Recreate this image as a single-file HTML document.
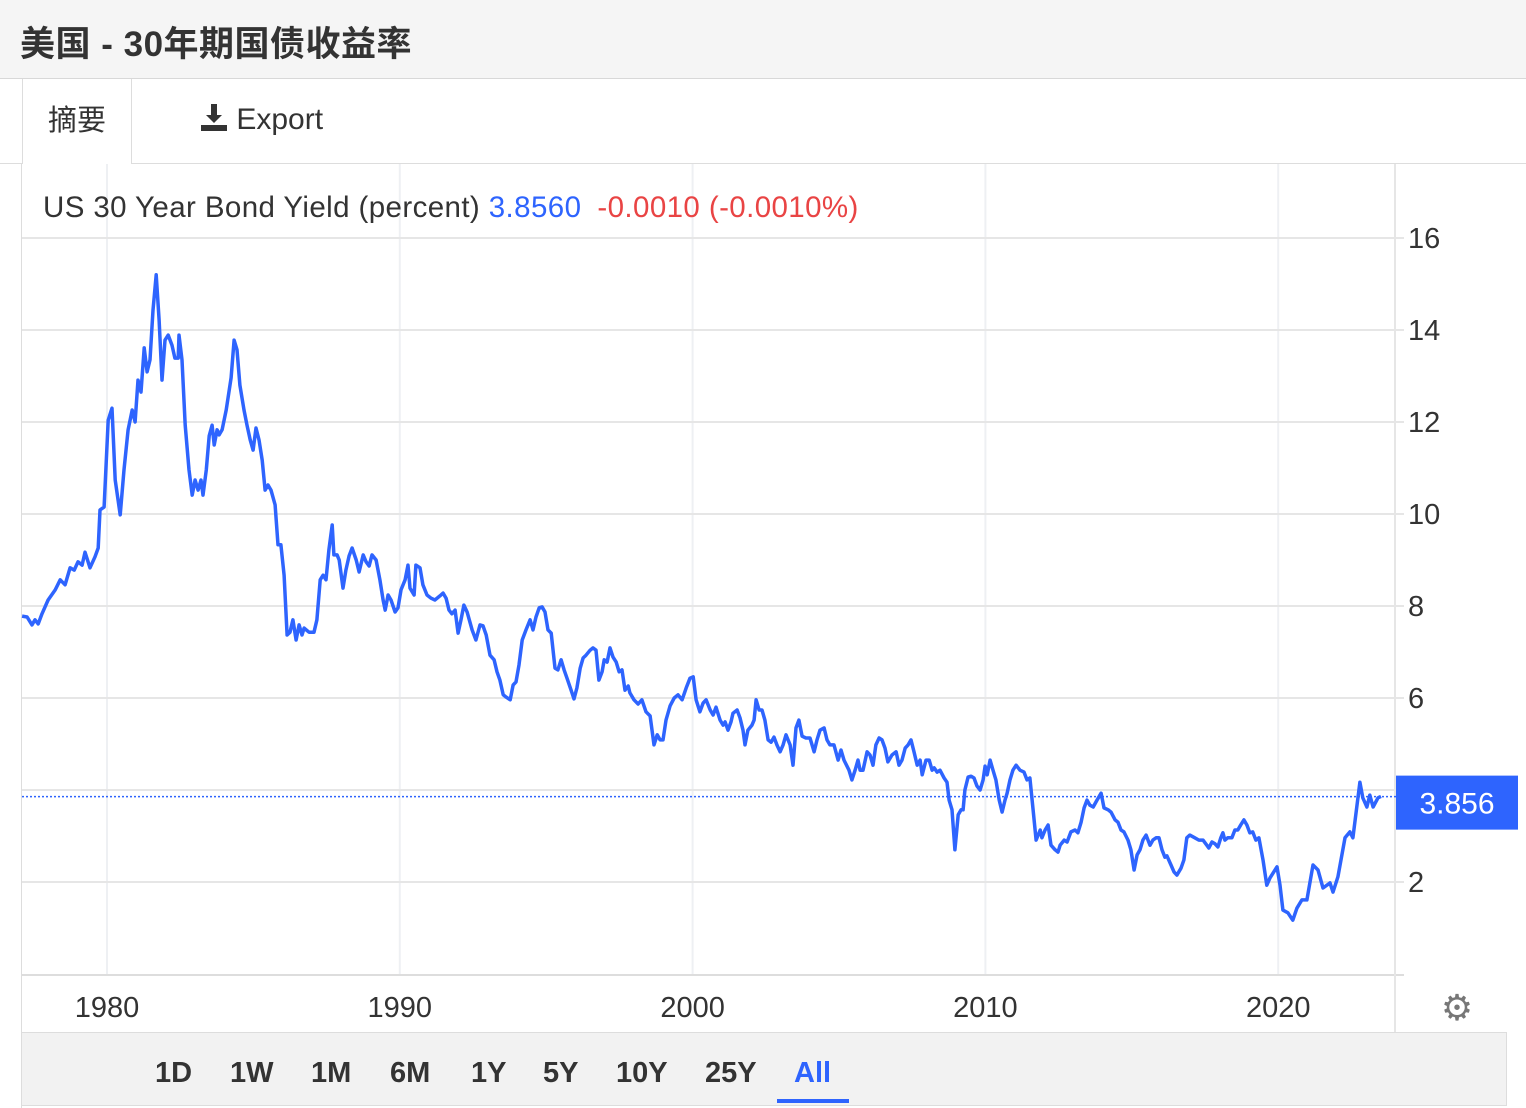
<!DOCTYPE html>
<html><head><meta charset="utf-8"><style>
body{margin:0;width:1526px;height:1108px;overflow:hidden;background:#fff;font-family:"Liberation Sans","Noto Sans CJK SC",sans-serif;}
#hdr{position:absolute;left:0;top:0;width:1526px;height:78px;background:#f5f5f5;border-bottom:1px solid #d8d8d8;}
#title{position:absolute;left:20px;top:16px;font-size:35px;font-weight:bold;color:#333;letter-spacing:0.5px}
#tabs{position:absolute;left:0;top:79px;width:1526px;height:84px;background:#fff;border-bottom:1px solid #ddd;}
#tab1{position:absolute;left:22px;top:0;width:108px;height:85px;background:#fff;border-left:1px solid #ddd;border-right:1px solid #ddd;font-size:29px;color:#333;text-align:center;line-height:84px;}
#export{position:absolute;left:200px;top:23px;font-size:30px;color:#333;}
#panel{position:absolute;left:21px;top:164px;width:1505px;height:944px;border-left:1px solid #ddd;background:#fff}
#bar{position:absolute;left:21px;top:1032px;width:1484px;height:72px;background:#f2f2f2;border:1px solid #ddd;}
.rb{position:absolute;top:24px;font-size:29px;font-weight:bold;color:#333;}
</style></head><body>
<div id="hdr"><div id="title">美国 - 30年期国债收益率</div></div>
<div id="tabs">
<div id="tab1">摘要</div>
<div id="export"><svg width="28" height="30" viewBox="0 0 28 30" style="vertical-align:-3px"><path d="M11 2h6v11h5l-8 8-8-8h5z" fill="#333"/><rect x="1" y="23" width="26" height="6" fill="#333"/></svg> Export</div>
</div>
<div id="panel"></div>
<svg id="chart" width="1526" height="1108" style="position:absolute;left:0;top:0"></svg>
<div id="bar">
<span class="rb" style="left:133px">1D</span>
<span class="rb" style="left:208px">1W</span>
<span class="rb" style="left:289px">1M</span>
<span class="rb" style="left:368px">6M</span>
<span class="rb" style="left:449px">1Y</span>
<span class="rb" style="left:521px">5Y</span>
<span class="rb" style="left:594px">10Y</span>
<span class="rb" style="left:683px">25Y</span>
<span class="rb" style="left:772px;color:#2e64fe">All</span>
<div style="position:absolute;left:755px;top:66px;width:72px;height:4px;background:#2e64fe"></div>
</div>
<script>
const years=[1977.10,1977.27,1977.44,1977.54,1977.65,1977.78,1977.99,1978.23,1978.40,1978.57,1978.74,1978.88,1979.01,1979.15,1979.25,1979.42,1979.59,1979.70,1979.76,1979.90,1980.04,1980.17,1980.28,1980.45,1980.58,1980.72,1980.86,1980.96,1981.06,1981.16,1981.27,1981.37,1981.47,1981.57,1981.68,1981.78,1981.88,1981.98,1982.09,1982.22,1982.32,1982.43,1982.46,1982.56,1982.67,1982.80,1982.91,1983.01,1983.11,1983.21,1983.28,1983.39,1983.49,1983.59,1983.66,1983.76,1983.83,1983.93,1984.07,1984.24,1984.34,1984.44,1984.54,1984.68,1984.78,1984.89,1984.99,1985.09,1985.19,1985.30,1985.40,1985.50,1985.60,1985.74,1985.84,1985.94,1986.05,1986.15,1986.25,1986.35,1986.46,1986.56,1986.66,1986.73,1986.90,1987.07,1987.17,1987.28,1987.38,1987.48,1987.58,1987.69,1987.75,1987.86,1987.93,1988.06,1988.16,1988.27,1988.37,1988.51,1988.61,1988.75,1988.85,1988.95,1989.05,1989.19,1989.32,1989.43,1989.50,1989.60,1989.70,1989.84,1989.94,1990.04,1990.18,1990.28,1990.35,1990.49,1990.55,1990.69,1990.79,1990.93,1991.07,1991.20,1991.37,1991.48,1991.58,1991.68,1991.78,1991.89,1991.99,1992.09,1992.19,1992.30,1992.47,1992.60,1992.74,1992.84,1992.95,1993.08,1993.22,1993.32,1993.42,1993.53,1993.63,1993.77,1993.87,1993.97,1994.07,1994.18,1994.31,1994.45,1994.55,1994.65,1994.76,1994.86,1994.96,1995.06,1995.17,1995.30,1995.40,1995.51,1995.61,1995.71,1995.85,1995.95,1996.05,1996.16,1996.26,1996.36,1996.50,1996.60,1996.70,1996.80,1996.91,1996.98,1997.08,1997.18,1997.28,1997.39,1997.49,1997.59,1997.69,1997.80,1997.86,1998.00,1998.14,1998.27,1998.41,1998.55,1998.68,1998.79,1998.89,1998.99,1999.09,1999.23,1999.37,1999.50,1999.64,1999.78,1999.91,2000.02,2000.12,2000.25,2000.36,2000.46,2000.60,2000.70,2000.80,2000.94,2001.04,2001.11,2001.21,2001.31,2001.38,2001.52,2001.62,2001.72,2001.79,2001.89,2002.03,2002.10,2002.17,2002.27,2002.37,2002.47,2002.58,2002.68,2002.78,2002.88,2002.99,2003.09,2003.19,2003.33,2003.43,2003.53,2003.63,2003.74,2003.87,2004.01,2004.15,2004.25,2004.35,2004.49,2004.59,2004.69,2004.83,2004.97,2005.07,2005.17,2005.34,2005.44,2005.55,2005.65,2005.72,2005.82,2005.96,2006.06,2006.16,2006.26,2006.37,2006.47,2006.57,2006.67,2006.81,2006.95,2007.05,2007.15,2007.26,2007.36,2007.46,2007.56,2007.67,2007.77,2007.84,2007.97,2008.08,2008.18,2008.25,2008.35,2008.45,2008.59,2008.69,2008.76,2008.86,2008.96,2009.07,2009.17,2009.24,2009.30,2009.41,2009.51,2009.61,2009.71,2009.82,2009.92,2009.99,2010.06,2010.16,2010.26,2010.36,2010.47,2010.57,2010.67,2010.74,2010.84,2010.94,2011.05,2011.18,2011.32,2011.42,2011.52,2011.63,2011.73,2011.87,2011.93,2012.04,2012.14,2012.24,2012.38,2012.48,2012.55,2012.69,2012.79,2012.92,2013.06,2013.16,2013.27,2013.37,2013.47,2013.57,2013.68,2013.81,2013.95,2014.05,2014.19,2014.29,2014.43,2014.53,2014.63,2014.73,2014.87,2014.97,2015.08,2015.18,2015.28,2015.38,2015.49,2015.62,2015.72,2015.83,2015.93,2016.03,2016.13,2016.20,2016.34,2016.44,2016.54,2016.68,2016.78,2016.88,2016.98,2017.15,2017.29,2017.43,2017.56,2017.63,2017.74,2017.84,2017.94,2018.04,2018.11,2018.18,2018.28,2018.42,2018.52,2018.62,2018.72,2018.83,2018.93,2019.03,2019.13,2019.24,2019.34,2019.48,2019.61,2019.72,2019.96,2020.06,2020.16,2020.33,2020.50,2020.64,2020.81,2020.98,2021.19,2021.36,2021.53,2021.77,2021.87,2022.04,2022.28,2022.45,2022.55,2022.79,2022.89,2023.03,2023.13,2023.24,2023.41,2023.51];
const yields=[7.78,7.76,7.59,7.70,7.61,7.83,8.13,8.35,8.57,8.46,8.83,8.78,8.96,8.89,9.17,8.83,9.07,9.26,10.09,10.15,12.04,12.30,10.74,9.98,10.96,11.83,12.26,12.00,12.91,12.65,13.61,13.09,13.35,14.43,15.20,14.22,12.91,13.78,13.89,13.67,13.39,13.39,13.89,13.35,11.93,10.96,10.41,10.74,10.52,10.74,10.41,10.96,11.70,11.93,11.50,11.83,11.72,11.83,12.26,12.96,13.78,13.57,12.80,12.26,11.93,11.61,11.39,11.87,11.61,11.17,10.52,10.63,10.52,10.20,9.33,9.33,8.67,7.37,7.43,7.70,7.26,7.59,7.37,7.52,7.43,7.43,7.70,8.57,8.67,8.57,9.22,9.76,9.11,9.11,9.00,8.39,8.78,9.09,9.26,9.00,8.74,9.11,8.96,8.87,9.11,9.00,8.57,8.13,7.91,8.24,8.13,7.87,7.96,8.35,8.57,8.89,8.39,8.24,8.89,8.83,8.46,8.24,8.17,8.13,8.22,8.28,8.17,7.91,7.83,7.91,7.41,7.70,8.02,7.87,7.48,7.26,7.59,7.57,7.37,6.93,6.83,6.57,6.39,6.07,6.02,5.96,6.28,6.35,6.72,7.26,7.48,7.70,7.48,7.76,7.96,7.98,7.87,7.48,7.41,6.65,6.61,6.83,6.61,6.43,6.17,5.98,6.22,6.65,6.87,6.93,7.04,7.09,7.04,6.39,6.57,6.83,6.78,7.09,6.89,6.78,6.57,6.61,6.17,6.26,6.11,5.96,5.87,5.96,5.70,5.61,4.98,5.20,5.09,5.09,5.52,5.83,6.00,6.07,5.96,6.22,6.43,6.46,5.96,5.70,5.89,5.96,5.74,5.63,5.80,5.52,5.41,5.48,5.30,5.48,5.67,5.74,5.57,5.30,4.98,5.30,5.41,5.52,5.96,5.74,5.74,5.52,5.09,5.04,5.15,4.98,4.83,4.98,5.20,4.98,4.54,5.35,5.52,5.17,5.13,5.13,4.83,5.09,5.30,5.35,5.09,4.98,4.98,4.65,4.87,4.65,4.43,4.22,4.43,4.65,4.43,4.43,4.83,4.76,4.54,4.98,5.13,5.09,4.91,4.61,4.76,4.83,4.54,4.65,4.91,4.98,5.09,4.83,4.54,4.65,4.33,4.65,4.65,4.43,4.48,4.39,4.43,4.26,4.17,3.78,3.57,2.70,3.46,3.57,3.57,4.00,4.28,4.30,4.26,4.09,4.00,4.22,4.52,4.33,4.65,4.43,4.22,3.78,3.52,3.78,3.93,4.22,4.43,4.54,4.43,4.39,4.22,4.26,3.57,2.91,3.13,2.96,3.13,3.24,2.80,2.70,2.65,2.80,2.91,2.87,3.09,3.13,3.07,3.30,3.61,3.78,3.67,3.63,3.78,3.93,3.61,3.57,3.52,3.35,3.30,3.13,3.09,2.91,2.70,2.26,2.59,2.70,2.91,3.02,2.80,2.91,2.96,2.96,2.70,2.54,2.57,2.37,2.22,2.15,2.30,2.48,2.96,3.02,2.96,2.91,2.91,2.80,2.74,2.87,2.83,2.76,2.96,3.07,2.91,2.96,2.96,3.13,3.13,3.24,3.35,3.24,3.07,3.09,2.91,2.96,2.48,1.93,2.09,2.33,1.93,1.39,1.33,1.17,1.43,1.61,1.61,2.37,2.26,1.87,1.98,1.78,2.11,2.96,3.09,2.96,4.17,3.83,3.63,3.89,3.63,3.83,3.86];
const yTicks=[2,4,6,8,10,12,14,16];
const yTickLabels=["2","","6","8","10","12","14","16"];
const xTicks=[1980,1990,2000,2010,2020];
const lastValue=3.856;
const NS="http://www.w3.org/2000/svg";
const svg=document.getElementById('chart');
const X=y=>107+(y-1980)*29.28;
const Y=v=>882-(v-2)*46;
function mk(t,a){const e=document.createElementNS(NS,t);for(const k in a)e.setAttribute(k,a[k]);svg.appendChild(e);return e;}
for(const t of xTicks){const l=mk('line',{x1:X(t),x2:X(t),y1:164,y2:975,stroke:'#eef0f3','stroke-width':2});


const tx=mk('text',{x:X(t),y:1017,'text-anchor':'middle','font-size':29,fill:'#333'});tx.textContent=t;

}
yTicks.forEach((t,i)=>{const l=mk('line',{x1:22,x2:1404,y1:Y(t),y2:Y(t),stroke:'#e6e6e6','stroke-width':2});


const tx=mk('text',{x:1408,y:Y(t)+10,'font-size':29,fill:'#333'});tx.textContent=yTickLabels[i];

});
const ax=mk('line',{x1:22,x2:1404,y1:975,y2:975,stroke:'#ddd','stroke-width':2});


const ay=mk('line',{x1:1395,x2:1395,y1:164,y2:1032,stroke:'#e6e6e6','stroke-width':2});


const cl=mk('line',{x1:22,x2:1396,y1:Y(lastValue),y2:Y(lastValue),stroke:'#2e64fe','stroke-width':1.5,'stroke-dasharray':'2,2'});


let d='';years.forEach((yr,i)=>{d+=(i?'L':'M')+X(yr).toFixed(1)+','+Y(yields[i]).toFixed(1);});
const p=mk('path',{d:d,fill:'none',stroke:'#2e64fe','stroke-width':3.5,'stroke-linejoin':'round'});


const vb=mk('rect',{x:1396,y:Y(lastValue)-21,width:122,height:54,fill:'#2e64fe'});


const vt=mk('text',{x:1457,y:Y(lastValue)+17,'text-anchor':'middle','font-size':30,fill:'#fff'});vt.textContent=lastValue.toFixed(3);


const lg=mk('text',{x:43,y:217,'font-size':29.5,fill:'#333','letter-spacing':'0.4'});


lg.innerHTML='US 30 Year Bond Yield (percent) <tspan fill="#2e64fe">3.8560</tspan><tspan fill="#e94444" dx="16">-0.0010 (-0.0010%)</tspan>';
const g=mk('text',{x:1457,y:1020,'text-anchor':'middle','font-size':36,fill:'#777','font-family':'DejaVu Sans'});g.textContent='⚙';


</script>
</body></html>
